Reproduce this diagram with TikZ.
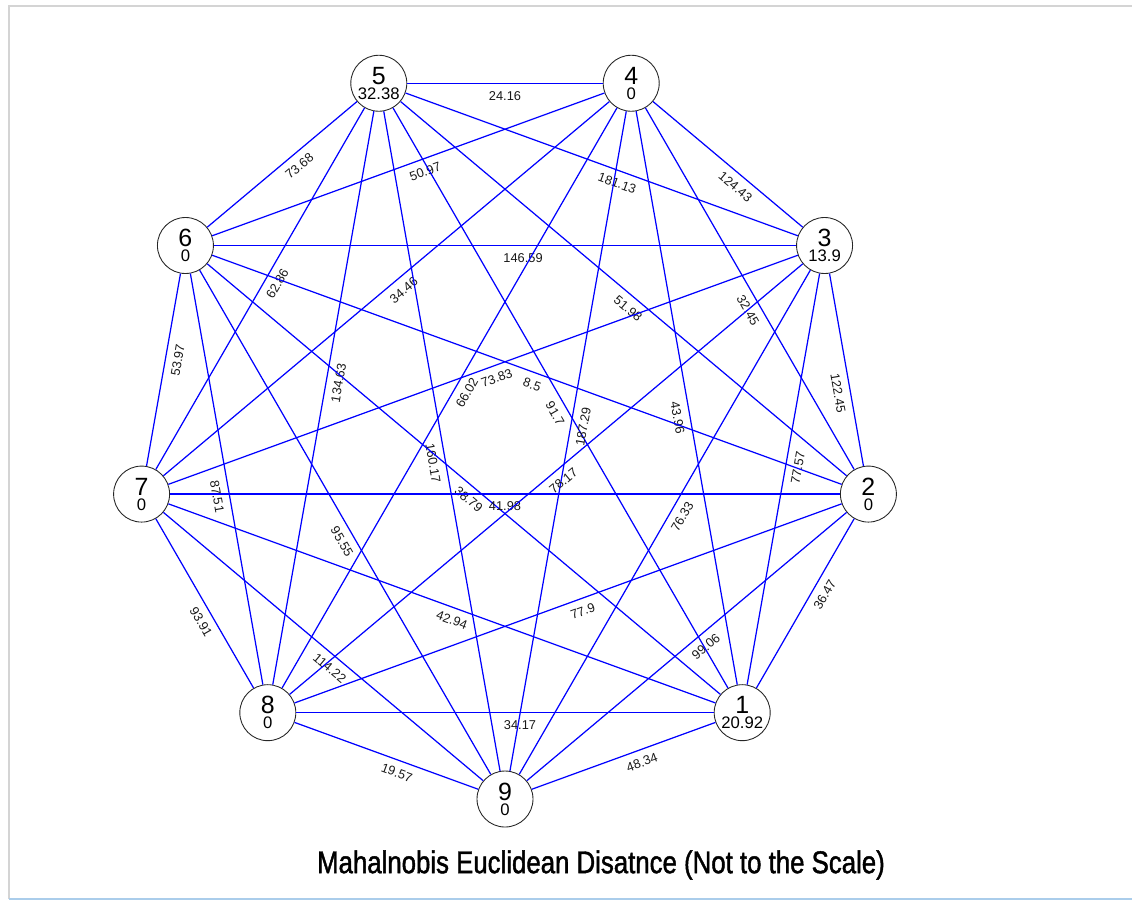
\documentclass[tikz,border=0pt]{standalone}
\usepackage{fontspec}
\setmainfont{Liberation Sans}
\newfontfamily\narrowfont[FakeStretch=0.82,FakeBold=1.4]{Liberation Sans}
\definecolor{framegray}{RGB}{212,212,212}
\definecolor{frameblue}{RGB}{170,205,235}

\begin{document}
\begin{tikzpicture}[
	vtx/.style={circle,draw=black!85,fill=white,line width=0.5pt,minimum size=1.12cm,inner sep=0pt,align=center,font=\fontsize{14.2}{8.5}\selectfont},
	edge/.style={blue,line width=0.7pt},
	wt/.style={sloped,below=0.11cm,inner sep=1pt,text=black!90,font=\fontsize{7.3}{8}\selectfont}
	]
	\useasboundingbox (-10.1,-9.46) rectangle (12.54,8.6);
	\draw[framegray,line width=0.6pt] (-9.92,-9.38) -- (-9.92,8.48) -- (12.54,8.48);
	\draw[frameblue,line width=0.8pt] (-9.92,-9.38) -- (12.54,-9.38);
	\foreach \k/\v in {1/20.92,2/0,3/13.9,4/0,5/32.38,6/0,7/0,8/0,9/0}
		\node[vtx] (n\k) at ({270+40*\k}:7.38) {\k\\{\fontsize{9.5}{8.5}\selectfont\v}};
	\foreach \a/\b/\p/\w in {5/4/.5/24.16, 6/5/.562/73.68, 4/3/.604/124.43, 3/2/.611/122.45,
			6/7/.44/53.97, 7/8/.573/93.91, 8/9/.58/19.57, 9/1/.577/48.34, 1/2/.589/36.47,
			6/4/.532/50.97, 5/3/.55/181.13, 7/5/.531/62.86, 4/2/.543/32.45, 6/8/.537/87.51,
			7/9/.545/114.22, 8/1/.536/34.17, 9/2/.535/99.06, 3/1/.467/77.57,
			6/3/.531/146.59, 7/4/.521/34.46, 5/2/.528/51.98, 5/8/.47/134.63, 6/9/.526/95.55,
			7/1/.526/42.94, 8/2/.519/77.9, 9/3/.523/76.33, 4/1/.531/43.96,
			4/8/.48/66.02, 7/3/.515/73.83, 6/2/.515/8.5, 5/1/.516/91.7, 4/9/.475/187.29,
			5/9/.53/160.17, 6/1/.525/38.79, 7/2/.5/41.98, 8/3/.518/78.17}
		\draw[edge] (n\a) -- node[wt,pos=\p] {\w} (n\b);
	\node (title) at (1.92,-8.7) {\narrowfont\fontsize{17.9}{20}\selectfont Mahalnobis Euclidean Disatnce (Not to the Scale)};
\end{tikzpicture}
\end{document}
